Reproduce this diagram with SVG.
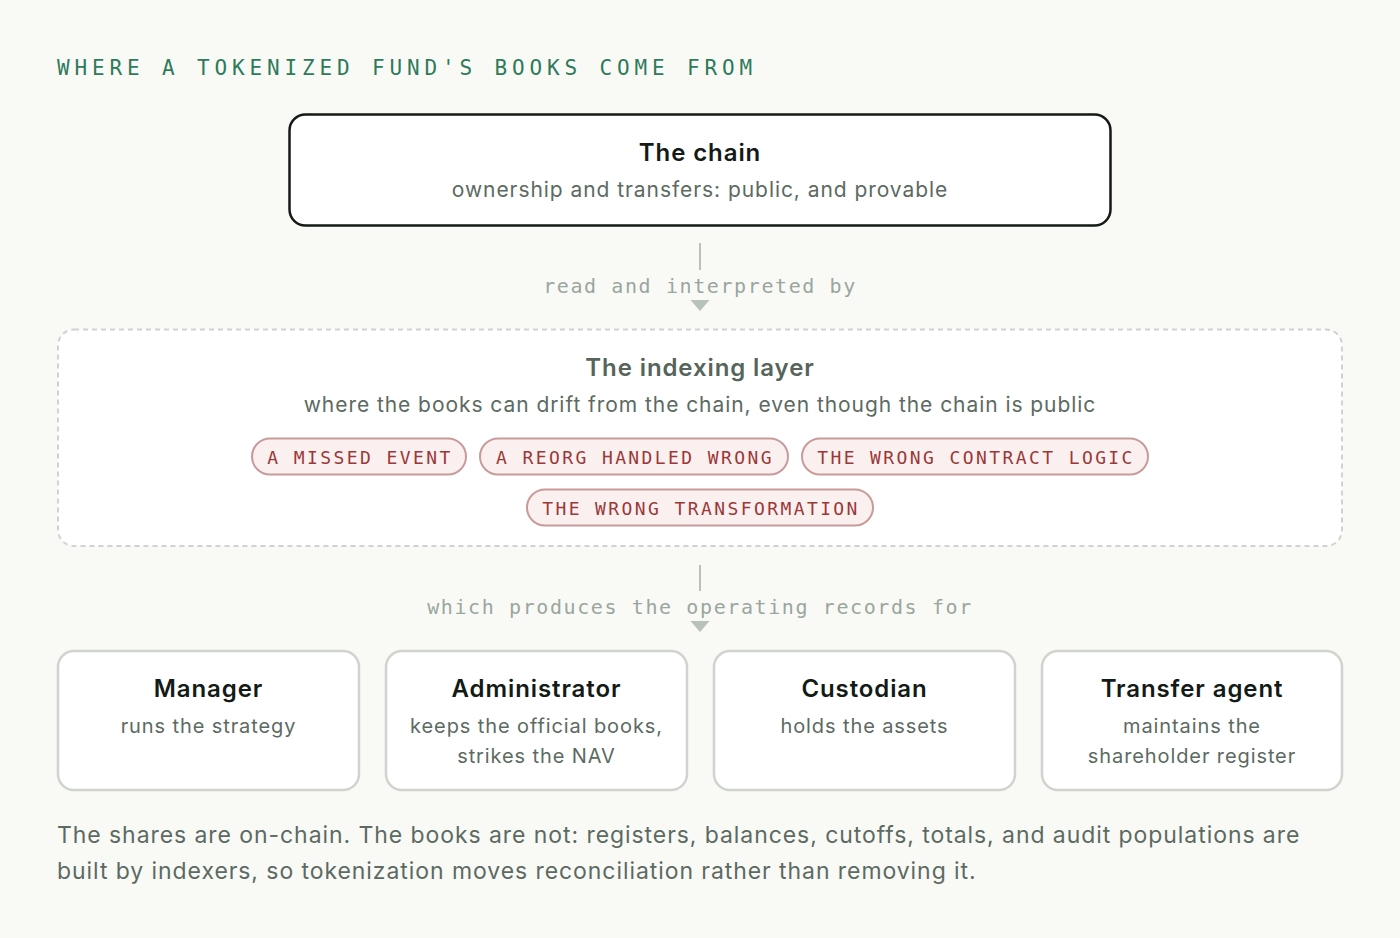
<svg xmlns="http://www.w3.org/2000/svg" width="1400" height="938" viewBox="0 0 1400 938">
<defs>
<style>
.sans{font-family:Inter,"Noto Sans","Liberation Sans",sans-serif}
.mono{font-family:"DejaVu Sans Mono","Liberation Mono",monospace}
.ttl{font-size:24px;font-weight:600;fill:#141a16;text-anchor:middle;letter-spacing:0.9px}
.sub{font-size:20px;fill:#5c6a62;text-anchor:middle;letter-spacing:0.9px}
.lsub{font-size:21px;letter-spacing:0.94px}
.node{fill:#ffffff;stroke:#cfd4ce;stroke-width:2.5}
.pill{fill:#fbf0f0;stroke:#c99a9a;stroke-width:2}
.pt{font-size:18px;fill:#9b3838;letter-spacing:2.4px;text-anchor:middle}
.cl{font-size:20px;fill:#9aa69e;letter-spacing:1.6px;text-anchor:middle}
.ln{stroke:#b8c2ba;stroke-width:2}
.ah{fill:#b8c2ba}
</style>
</defs>
<rect width="1400" height="938" fill="#f9faf6"/>
<text class="mono" x="57" y="75" font-size="21" fill="#2e7a5a" letter-spacing="4.86">WHERE A TOKENIZED FUND'S BOOKS COME FROM</text>

<g id="chain">
<rect x="289.5" y="114.5" width="821" height="111" rx="16" fill="#ffffff" stroke="#141a16" stroke-width="2.5"/>
<text class="sans ttl" x="700" y="161">The chain</text>
<text class="sans sub lsub" x="700" y="197">ownership and transfers: public, and provable</text>
</g>

<g id="connectors">
<line class="ln" x1="700" y1="243" x2="700" y2="270"/>
<text class="mono cl" x="700" y="293">read and interpreted by</text>
<polygon class="ah" points="690.5,300 709.5,300 700,311"/>
<line class="ln" x1="700" y1="565" x2="700" y2="591"/>
<text class="mono cl" x="700" y="614">which produces the operating records for</text>
<polygon class="ah" points="690.5,621 709.5,621 700,632"/>
</g>

<g id="indexing">
<rect x="58" y="329.5" width="1284" height="216.5" rx="16" fill="#ffffff" stroke="#cfd3cf" stroke-width="2" stroke-dasharray="5 4"/>
<text class="sans ttl" x="700" y="376" style="fill:#56645b">The indexing layer</text>
<text class="sans sub lsub" x="700" y="412">where the books can drift from the chain, even though the chain is public</text>
<g id="pill-missed">
<rect class="pill" x="252" y="438.5" width="214" height="36" rx="18"/>
<text class="mono pt" x="360" y="464">A MISSED EVENT</text>
</g>
<g id="pill-reorg">
<rect class="pill" x="480" y="438.5" width="308" height="36" rx="18"/>
<text class="mono pt" x="635" y="464">A REORG HANDLED WRONG</text>
</g>
<g id="pill-contract">
<rect class="pill" x="802" y="438.5" width="346" height="36" rx="18"/>
<text class="mono pt" x="976" y="464">THE WRONG CONTRACT LOGIC</text>
</g>
<g id="pill-transform">
<rect class="pill" x="527" y="489.5" width="346" height="36" rx="18"/>
<text class="mono pt" x="701" y="515">THE WRONG TRANSFORMATION</text>
</g>
</g>

<g id="manager">
<rect class="node" x="58" y="651" width="301" height="139" rx="16"/>
<text class="sans ttl" x="208.5" y="697">Manager</text>
<text class="sans sub" x="208.5" y="733">runs the strategy</text>
</g>
<g id="administrator">
<rect class="node" x="386" y="651" width="301" height="139" rx="16"/>
<text class="sans ttl" x="536.5" y="697">Administrator</text>
<text class="sans sub" x="536.5" y="733">keeps the official books,</text>
<text class="sans sub" x="536.5" y="763">strikes the NAV</text>
</g>
<g id="custodian">
<rect class="node" x="714" y="651" width="301" height="139" rx="16"/>
<text class="sans ttl" x="864.5" y="697">Custodian</text>
<text class="sans sub" x="864.5" y="733">holds the assets</text>
</g>
<g id="transfer-agent">
<rect class="node" x="1042" y="651" width="300" height="139" rx="16"/>
<text class="sans ttl" x="1192" y="697">Transfer agent</text>
<text class="sans sub" x="1192" y="733">maintains the</text>
<text class="sans sub" x="1192" y="763">shareholder register</text>
</g>

<text class="sans" x="57" y="843" font-size="23" fill="#5c6a62" letter-spacing="0.93">The shares are on-chain. The books are not: registers, balances, cutoffs, totals, and audit populations are</text>
<text class="sans" x="57" y="879" font-size="23" fill="#5c6a62" letter-spacing="0.93">built by indexers, so tokenization moves reconciliation rather than removing it.</text>
</svg>
